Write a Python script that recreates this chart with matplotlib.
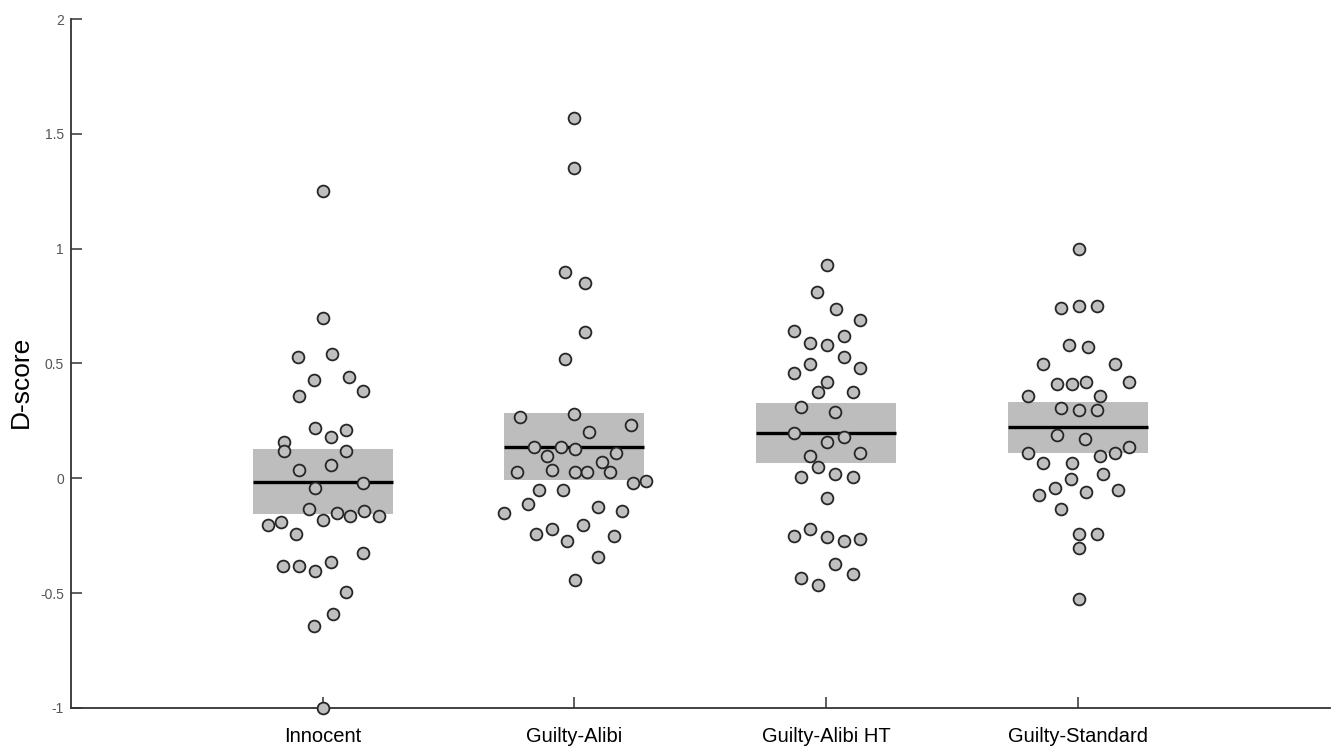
import matplotlib.pyplot as plt
import numpy as np

plt.rcParams['font.family'] = ['Liberation Sans', 'DejaVu Sans']

groups = ['Innocent', 'Guilty-Alibi', 'Guilty-Alibi HT', 'Guilty-Standard']

# box: lower edge, upper edge, mean line
box_low = [-0.155, -0.007, 0.068, 0.109]
box_high = [0.128, 0.283, 0.327, 0.333]
box_mean = [-0.015, 0.138, 0.198, 0.222]

# D-scores per group, with the horizontal spread
innocent = [1.251, 0.699, 0.529, 0.541, 0.429, 0.440, 0.380, 0.360, 0.220, 0.180,
             0.209, 0.157, 0.119, 0.119, 0.037, 0.059, -0.022, -0.044, -0.134, -0.182,
             -0.152, -0.163, -0.142, -0.163, -0.203, -0.192, -0.244, -0.324, -0.382, -0.382,
             -0.404, -0.363, -0.494, -0.592, -0.643, -1.0]
innocent_jit = [0.0, 0.0, -0.10, 0.037, -0.033, 0.105, 0.159, -0.094, -0.03, 0.032,
                0.094, -0.155, -0.155, 0.094, -0.094, 0.032, 0.159, -0.03, -0.055, 0.0,
                0.055, 0.11, 0.166, 0.222, -0.219, -0.164, -0.107, 0.159, -0.158, -0.094,
                -0.03, 0.035, 0.094, 0.04, -0.036, 0.0]

alibi = [1.570, 1.350, 0.899, 0.849, 0.638, 0.518, 0.268, 0.279, 0.232, 0.200,
         0.138, 0.138, 0.128, 0.097, 0.109, 0.070, 0.029, 0.036, 0.029, 0.029,
         0.029, -0.022, -0.012, -0.051, -0.051, -0.113, -0.152, -0.124, -0.142, -0.203,
         -0.244, -0.222, -0.272, -0.251, -0.341, -0.443]
alibi_jit = [0.0, 0.0, -0.036, 0.04, 0.04, -0.036, -0.217, 0.0, 0.224, 0.058,
             -0.161, -0.053, 0.002, -0.109, 0.167, 0.111, -0.23, -0.091, 0.002, 0.048,
             0.143, 0.233, 0.283, -0.139, -0.045, -0.184, -0.278, 0.095, 0.188, 0.034,
             -0.154, -0.091, -0.029, 0.158, 0.095, 0.002]

alibi_ht = [0.929, 0.810, 0.738, 0.689, 0.641, 0.589, 0.579, 0.618, 0.529, 0.499,
            0.482, 0.460, 0.418, 0.377, 0.377, 0.309, 0.287, 0.199, 0.178, 0.159,
            0.098, 0.109, 0.048, 0.007, 0.019, 0.007, -0.084, -0.253, -0.222, -0.254,
            -0.272, -0.263, -0.373, -0.433, -0.415, -0.463]
alibi_ht_jit = [0.002, -0.036, 0.038, 0.135, -0.129, -0.064, 0.002, 0.069, 0.069, -0.064,
                0.135, -0.129, 0.002, -0.033, 0.106, -0.101, 0.037, -0.129, 0.069, 0.002,
                -0.064, 0.135, -0.033, -0.101, 0.037, 0.106, 0.002, -0.129, -0.064, 0.002,
                0.069, 0.135, 0.037, -0.101, 0.106, -0.033]

standard = [1.000, 0.740, 0.750, 0.750, 0.579, 0.570, 0.499, 0.499, 0.409, 0.409,
            0.418, 0.418, 0.360, 0.360, 0.307, 0.297, 0.297, 0.188, 0.170, 0.109,
            0.098, 0.109, 0.138, 0.068, 0.068, 0.017, -0.003, -0.044, -0.073, -0.061,
            -0.051, -0.132, -0.244, -0.244, -0.302, -0.525]
standard_jit = [0.004, -0.069, 0.004, 0.075, -0.035, 0.042, -0.14, 0.147, -0.082, -0.025,
                0.031, 0.204, -0.197, 0.089, -0.069, 0.004, 0.075, -0.082, 0.03, -0.197,
                0.089, 0.147, 0.204, -0.14, -0.025, 0.099, -0.027, -0.09, -0.154, 0.034,
                0.161, -0.069, 0.004, 0.075, 0.004, 0.004]

scores = [innocent, alibi, alibi_ht, standard]
jitter = [innocent_jit, alibi_jit, alibi_ht_jit, standard_jit]

fig = plt.figure(figsize=(13.31, 7.51), dpi=100)
ax = fig.add_axes([0.0533, 0.0573, 0.9457, 0.9174])

box_w = 0.556
pos = np.arange(1, len(groups) + 1)
for i, p in enumerate(pos):
    ax.bar(p, box_high[i] - box_low[i], bottom=box_low[i], width=box_w,
           color='#bdbdbd', linewidth=0, zorder=1)
    ax.hlines(box_mean[i], p - box_w / 2, p + box_w / 2, color='black', lw=2.4, zorder=2)
    ax.scatter(p + np.array(jitter[i]), scores[i], s=72, facecolor='#bfbfbf',
               edgecolor='#262626', linewidth=1.3, zorder=3, clip_on=False)

ax.set_xlim(0, 5)
ax.set_ylim(-1, 2)
ax.set_xticks(pos)
ax.set_xticklabels(groups, fontsize=14.5)
ax.set_yticks([-1, -0.5, 0, 0.5, 1, 1.5, 2])
ax.set_yticklabels(['-1', '-0.5', '0', '0.5', '1', '1.5', '2'], fontsize=10, color='#555555')
ax.set_ylabel('D-score', fontsize=19)
ax.yaxis.set_label_coords(-0.030, 0.473)

for side in ['top', 'right']:
    ax.spines[side].set_visible(False)
for side in ['left', 'bottom']:
    ax.spines[side].set_color('#333333')
    ax.spines[side].set_linewidth(1.3)
ax.tick_params(axis='both', direction='in', length=8, width=1.1, color='#333333')
ax.tick_params(axis='x', pad=14)
ax.tick_params(axis='y', pad=5)

fig.savefig('out.png', dpi=100)
